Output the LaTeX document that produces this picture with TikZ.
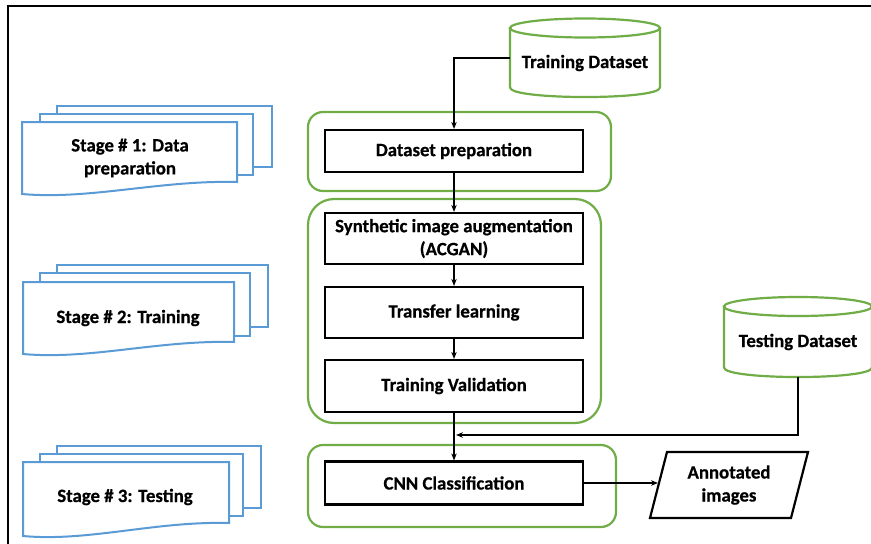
\documentclass[tikz,border=0pt]{standalone}
\usepackage{fontspec}
\setmainfont{Carlito}[BoldFeatures={FakeBold=0.6}]
\usetikzlibrary{arrows.meta}

\definecolor{docblue}{RGB}{91,155,213}
\definecolor{grpgreen}{RGB}{112,173,71}

\begin{document}
\begin{tikzpicture}[x=1pt,y=-1pt,
  font=\fontsize{18.8}{23}\selectfont\bfseries,
  stepbox/.style={draw=black,line width=2.2pt,fill=white,minimum width=258pt,
    align=center,inner sep=0pt},
  group/.style={draw=grpgreen,line width=2.2pt},
  conn/.style={line width=1.1pt,-{Stealth[length=7pt,width=5.5pt]}},
  plain/.style={line width=1.1pt},
  docsheet/.style={draw=docblue,line width=2pt,fill=white},
  db/.style={draw=grpgreen,line width=2.2pt,fill=white},
  label/.style={align=center,inner sep=0pt}]

\useasboundingbox (0,0) rectangle (871,544);
\clip (0,0) rectangle (871,544);

% outer frame
\draw[line width=1.6pt] (8,544) -- (8,6) -- (871,6);

% ---------- stage documents (stacked sheets with wavy bottom) ----------
% stage 1
\draw[docsheet] (57,106) rectangle (272,167);
\draw[docsheet] (40,114) rectangle (253,175);
\draw[docsheet] (22,122) -- (237,122) -- (237,182)
  .. controls (160,180) and (90,200) .. (22,194) -- cycle;
\node[label] (stage1) at (130,158) {Stage \# 1: Data\\preparation};

% stage 2
\draw[docsheet] (57,265) rectangle (268,327);
\draw[docsheet] (40,273) rectangle (250,336);
\draw[docsheet] (23,282) -- (234,282) -- (234,342)
  .. controls (158,340) and (90,360) .. (23,354) -- cycle;
\node[label] (stage2) at (128,318) {Stage \# 2: Training};

% stage 3
\draw[docsheet] (57,446) rectangle (261,508);
\draw[docsheet] (40,454) rectangle (243,516);
\draw[docsheet] (23,462) -- (229,462) -- (229,523)
  .. controls (155,521) and (88,542) .. (23,536) -- cycle;
\node[label] (stage3) at (125,497) {Stage \# 3: Testing};

% ---------- grouping frames ----------
\draw[group,rounded corners=15pt] (308,112) rectangle (611,191);
\draw[group,rounded corners=26pt] (308,199) rectangle (601,423);
\draw[group,rounded corners=15pt] (308,445) rectangle (616,527);

% ---------- process steps ----------
\node[stepbox,minimum height=42pt] (prep) at (454,151) {Dataset preparation};
\node[stepbox,minimum height=51pt] (acgan) at (454,238.5)
  {Synthetic image augmentation\\(ACGAN)};
\node[stepbox,minimum height=51pt] (transfer) at (454,312.5) {Transfer learning};
\node[stepbox,minimum height=52pt] (valid) at (454,386) {Training Validation};
\node[stepbox,minimum height=43pt] (cnn) at (454,483) {CNN Classification};

% ---------- datasets (cylinders) ----------
\draw[db] (510,28) -- (510,87.5)
  .. controls (510,100.2) and (660,100.2) .. (660,87.5) -- (660,28) -- cycle;
\draw[db] (585,28) ellipse [x radius=75, y radius=9.5];
\node[label] (train) at (585,63) {Training Dataset};
\coordinate (trainside) at (510,58);

\draw[db] (724,306.5) -- (724,367.5)
  .. controls (724,380.2) and (872,380.2) .. (872,367.5) -- (872,306.5) -- cycle;
\draw[db] (798,306.5) ellipse [x radius=74, y radius=9.5];
\node[label] (test) at (798,342) {Testing Dataset};
\coordinate (testbot) at (798,377);
\coordinate (merge) at (456,435);

% ---------- output ----------
\draw[line width=2.2pt,fill=white] (650,518) -- (667,452) -- (808,452) -- (791,518) -- cycle;
\node[label] (annot) at (729,485) {Annotated\\images};
\coordinate (annotin) at (658,483);

% ---------- connectors ----------
\draw[conn] (trainside) -| (prep.north);
\draw[conn] (prep.south) -- (acgan.north);
\draw[conn] (acgan.south) -- (transfer.north);
\draw[conn] (transfer.south) -- (valid.north);
\draw[conn] (valid.south) -- (cnn.north);
\draw[conn] (testbot) |- (merge);
\draw[conn] (cnn.east) -- (annotin);

\end{tikzpicture}
\end{document}
